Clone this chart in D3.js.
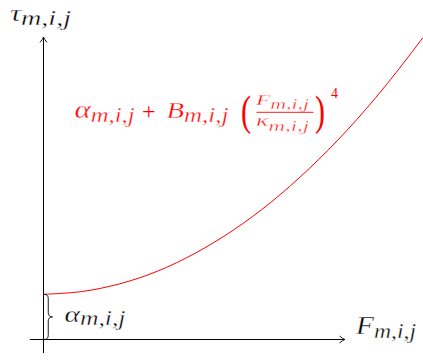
<!DOCTYPE html>
<html>
<head>
<meta charset="utf-8">
<script src="https://cdn.jsdelivr.net/npm/d3@7"></script>
<style>
  html, body { margin: 0; padding: 0; background: #fff; }
  svg { display: block; }
</style>
</head>
<body>
<svg id="chart" width="423" height="361"></svg>
<script>
// Shear stress tau as a function of load F (arbitrary units, alpha = 1)
const forceValues = [0, 1, 2, 3, 4, 5, 6, 7, 8, 9, 10];
const tauValues   = [1.00, 1.06, 1.23, 1.51, 1.91, 2.42, 3.04, 3.78, 4.63, 5.60, 6.68];
const alphaValue  = 1.00;

// Extent of the drawn axes (data units)
const forceAxisExtent = [-0.36, 7.94];
const tauAxisExtent   = [-0.30, 6.69];

const MATH_FONT = "'Liberation Serif', 'Times New Roman', serif";
const RED = "#ff0000";

const svg = d3.select("#chart");

const x = d3.scaleLinear().domain([0, 10]).range([43.5, 423]);
const y = d3.scaleLinear().domain([0, 1]).range([339.5, 294.3]);

// Small curved arrow head in the style of a TeX "to" arrow
function arrowHead(g, tx, ty, dir) {
  let p;
  if (dir === "up") {
    p = `M${tx - 3.2},${ty + 5} Q${tx - 0.6},${ty + 1.8} ${tx},${ty} Q${tx + 0.6},${ty + 1.8} ${tx + 3.2},${ty + 5}`;
  } else {
    p = `M${tx - 5},${ty - 3.2} Q${tx - 1.8},${ty - 0.6} ${tx},${ty} Q${tx - 1.8},${ty + 0.6} ${tx - 5},${ty + 3.2}`;
  }
  g.append("path").attr("d", p).attr("fill", "none")
    .attr("stroke", "#000").attr("stroke-width", 0.9).attr("stroke-linecap", "round");
}

const axes = svg.append("g");
// horizontal axis
axes.append("line")
  .attr("x1", x(forceAxisExtent[0])).attr("x2", x(forceAxisExtent[1]))
  .attr("y1", y(0)).attr("y2", y(0))
  .attr("stroke", "#000").attr("stroke-width", 1);
arrowHead(axes, x(forceAxisExtent[1]), y(0), "right");
// vertical axis
axes.append("line")
  .attr("x1", x(0)).attr("x2", x(0))
  .attr("y1", y(tauAxisExtent[0])).attr("y2", y(tauAxisExtent[1]))
  .attr("stroke", "#000").attr("stroke-width", 1);
arrowHead(axes, x(0), y(tauAxisExtent[1]), "up");

// tau(F) curve
const line = d3.line()
  .x((d, i) => x(forceValues[i]))
  .y(d => y(d))
  .curve(d3.curveCatmullRom.alpha(0.5));
svg.append("path")
  .datum(tauValues)
  .attr("d", line)
  .attr("fill", "none")
  .attr("stroke", RED)
  .attr("stroke-width", 1);

// Brace marking the offset alpha on the vertical axis
(function brace() {
  const bx = x(0) + 0.5, y1 = y(alphaValue), y2 = y(0), a = 8.5;
  const mid = (y1 + y2) / 2, h = a / 2;
  const d = `M${bx},${y1} Q${bx + h},${y1} ${bx + h},${y1 + h}` +
            ` L${bx + h},${mid - h} Q${bx + h},${mid} ${bx + a},${mid}` +
            ` Q${bx + h},${mid} ${bx + h},${mid + h}` +
            ` L${bx + h},${y2 - h} Q${bx + h},${y2} ${bx},${y2}`;
  svg.append("path").attr("d", d).attr("fill", "none")
    .attr("stroke", "#000").attr("stroke-width", 0.9);
})();

// Thin white outline keeps widened glyphs light
function lighten(t) {
  return t.attr("stroke", "#fff").attr("stroke-width", 0.35);
}

// A symbol with an "m,i,j" subscript, spread to a given width
function subscripted(g, o) {
  const t = g.append("text")
    .attr("x", o.x).attr("y", o.y)
    .attr("font-family", MATH_FONT)
    .attr("font-style", "italic")
    .attr("fill", o.color);
  t.append("tspan").attr("font-size", o.size).text(o.main);
  t.append("tspan").attr("font-size", o.subSize).attr("dy", o.subDy).text("m,i,j");
  if (o.width) t.attr("textLength", o.width).attr("lengthAdjust", "spacingAndGlyphs");
  return lighten(t);
}

// Plain glyph (operators, delimiters, exponent)
function glyph(g, o) {
  const t = g.append("text")
    .attr("font-family", MATH_FONT)
    .attr("font-size", o.size)
    .attr("font-style", o.italic ? "italic" : "normal")
    .attr("fill", o.color)
    .text(o.t);
  if (o.sy) t.attr("transform", `translate(${o.x},${o.y}) scale(1,${o.sy})`);
  else t.attr("x", o.x).attr("y", o.y);
  return t;
}

// Axis titles
subscripted(svg, { main: "τ", x: 10, y: 21, size: 24, subSize: 22, subDy: 4, width: 61, color: "#000" });
subscripted(svg, { main: "F", x: 356, y: 334, size: 26, subSize: 21, subDy: 3.5, width: 60, color: "#000" });

// Offset label next to the brace
subscripted(svg, { main: "α", x: 64.5, y: 322, size: 23, subSize: 20, subDy: 2.5, width: 61, color: "#000" });

// Model expression
const f = svg.append("g");
subscripted(f, { main: "α", x: 74.5, y: 118, size: 25, subSize: 20, subDy: 3.5, width: 60, color: RED });
glyph(f, { t: "+", x: 142, y: 119, size: 24, color: RED });
subscripted(f, { main: "B", x: 166.5, y: 118, size: 23, subSize: 20, subDy: 3.5, width: 62, color: RED });
glyph(f, { t: "(", x: 241, y: 124.5, size: 30, sy: 1.4, color: RED });
subscripted(f, { main: "F", x: 256, y: 105, size: 15, subSize: 14, subDy: 3.5, width: 53, color: RED });
subscripted(f, { main: "κ", x: 256, y: 125.5, size: 16, subSize: 14, subDy: 5, width: 53, color: RED });
glyph(f, { t: ")", x: 315, y: 124.5, size: 30, sy: 1.4, color: RED });
glyph(f, { t: "4", x: 331, y: 98, size: 14, color: RED });
f.append("line")
  .attr("x1", 256.5).attr("x2", 313.5)
  .attr("y1", 112.3).attr("y2", 112.3)
  .attr("stroke", RED).attr("stroke-width", 0.9);
</script>
</body>
</html>
